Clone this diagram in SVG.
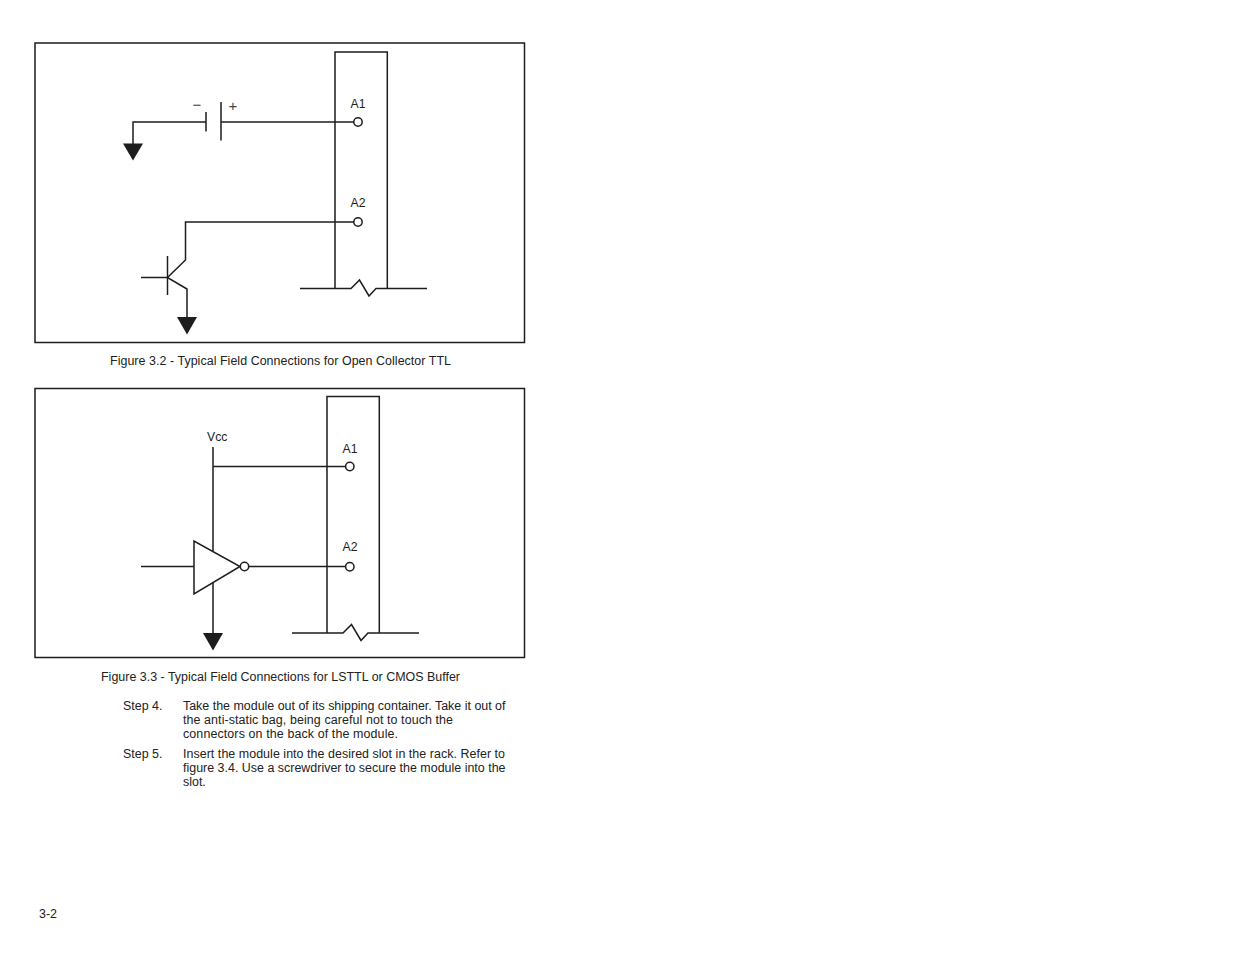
<svg xmlns="http://www.w3.org/2000/svg" width="1235" height="954" viewBox="0 0 1235 954">
<defs><style>
.l{fill:none;stroke:#1d1d1d;stroke-width:1.5}
.t{font-family:"Liberation Sans",Arial,sans-serif;font-size:12.45px;fill:#222}
.s{font-size:12.2px}
.b{font-size:15px;fill:#444}
.g{fill:#1d1d1d;stroke:none}
.p{fill:#fff;stroke:#1d1d1d;stroke-width:1.5}
</style></defs>
<rect width="1235" height="954" fill="#fff"/>
<g id="figure-3-2">
<rect id="frame1" class="l" x="35" y="43" width="489.500" height="299.500"/>
<g id="module1"><path class="l" d="M335 288.500V52H387.300V288.500"/><path class="l" d="M300 288.500H351L359.500 280L369 296L376 288.500H427"/>
<text class="t s" x="350.500" y="108">A1</text><text class="t s" x="350.500" y="207">A2</text></g>
<g id="connectors1">
<path class="l" d="M133 146V122H206"/><path class="l" d="M221 122H354"/>
<path class="l" d="M354 222H185.500V260L167.500 277.500"/>
<path class="l" d="M141 277.500H167.500L187 289V320"/>
</g>
<g id="battery"><path class="l" d="M206 112V131.500M221 102V140.500"/>
<text class="t b" x="192.500" y="110">−</text><text class="t b" x="228.500" y="110.500">+</text></g>
<g id="transistor"><path class="l" d="M167.500 256V295"/></g>
<g id="ground1"><path class="g" d="M123 143.500H143L133 160.500Z"/></g>
<g id="ground2"><path class="g" d="M177 317H197L187 334.500Z"/></g>
<g id="pin-a1-1"><circle class="p" cx="358" cy="122" r="4.200"/></g>
<g id="pin-a2-1"><circle class="p" cx="358" cy="222" r="4.200"/></g>
<text class="t" x="110" y="365" textLength="341">Figure 3.2 - Typical Field Connections for Open Collector TTL</text>
</g>
<g id="figure-3-3">
<rect id="frame2" class="l" x="35" y="388.500" width="489.500" height="269"/>
<g id="module2"><path class="l" d="M327 633V396.500H379.300V633"/><path class="l" d="M292 633H343L351.500 624.500L361 640.500L368 633H419"/>
<text class="t s" x="342.500" y="453">A1</text><text class="t s" x="342.500" y="551">A2</text></g>
<g id="connectors2">
<path class="l" d="M213 447V636"/><path class="l" d="M213 466.500H346"/>
<path class="l" d="M141 566.500H194"/><path class="l" d="M248.500 566.500H346"/>
</g>
<g id="buffer"><path class="p" d="M194 541V594L240 566.500Z"/><circle class="p" cx="244.500" cy="566.500" r="4.200"/></g>
<text id="vcc" class="t s" x="207" y="441">Vcc</text>
<g id="ground3"><path class="g" d="M203 633H223L213 650.500Z"/></g>
<g id="pin-a1-2"><circle class="p" cx="349.800" cy="466.500" r="4.200"/></g>
<g id="pin-a2-2"><circle class="p" cx="349.800" cy="566.800" r="4.200"/></g>
<text class="t" x="101" y="681" textLength="359">Figure 3.3 - Typical Field Connections for LSTTL or CMOS Buffer</text>
</g>
<g id="steps">
<text class="t" x="123" y="710">Step 4.</text>
<text class="t" x="183" y="710" textLength="322.500">Take the module out of its shipping container. Take it out of</text>
<text class="t" x="183" y="724" textLength="270">the anti-static bag, being careful not to touch the</text>
<text class="t" x="183" y="738" textLength="215">connectors on the back of the module.</text>
<text class="t" x="123" y="758">Step 5.</text>
<text class="t" x="183" y="758" textLength="322">Insert the module into the desired slot in the rack. Refer to</text>
<text class="t" x="183" y="772" textLength="322.500">figure 3.4. Use a screwdriver to secure the module into the</text>
<text class="t" x="183" y="786">slot.</text>
</g>
<text class="t" x="39" y="918">3-2</text>
</svg>
